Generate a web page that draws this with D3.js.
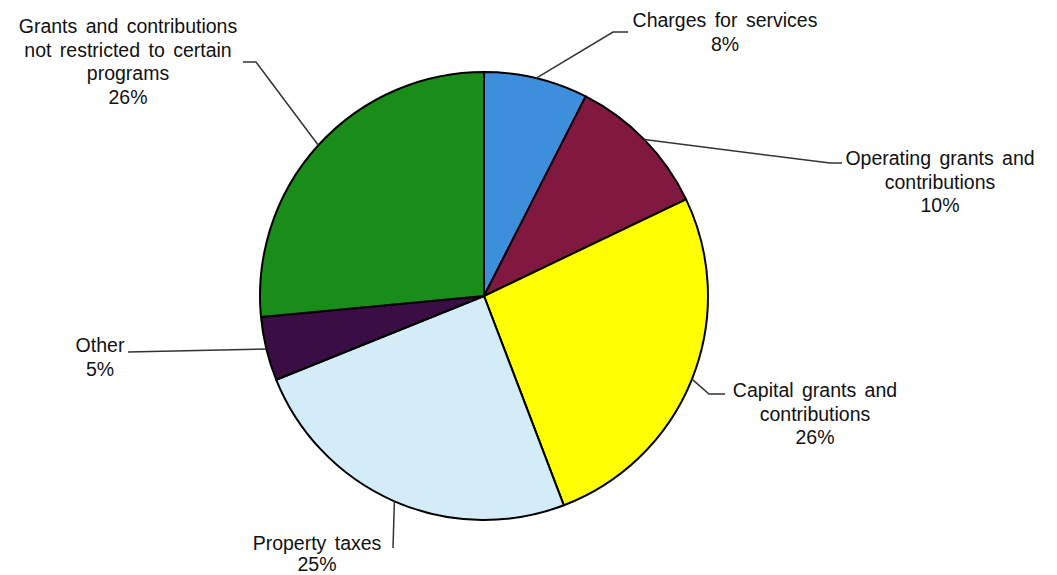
<!DOCTYPE html>
<html>
<head>
<meta charset="utf-8">
<script src="https://cdn.jsdelivr.net/npm/d3@7"></script>
<style>
  body { margin: 0; background: #fff; }
  text { font-family: "Liberation Sans", Arial, sans-serif; font-size: 19.5px; fill: #111; word-spacing: 3px; }
</style>
</head>
<body>
<svg id="chart" width="1057" height="575"></svg>
<script>
// slices clockwise from 12 o'clock
const categories = ["Charges for services", "Operating grants and contributions", "Capital grants and contributions",
  "Property taxes", "Other", "Grants and contributions not restricted to certain programs"];
const shares = [7.5, 10.4, 26.3, 24.7, 4.6, 26.5];
const pct_labels = ["8%", "10%", "26%", "25%", "5%", "26%"];
const label_lines = [
  ["Charges for services", pct_labels[0]],
  ["Operating grants and", "contributions", pct_labels[1]],
  ["Capital grants and", "contributions", pct_labels[2]],
  ["Property taxes", pct_labels[3]],
  ["Other", pct_labels[4]],
  ["Grants and contributions", "not restricted to certain", "programs", pct_labels[5]]
];
const colors = ["#3d8fdc", "#801840", "#ffff00", "#d4ecf8", "#3a0e45", "#1a8c1a"];

// label placement: text centre x, first baseline y, line gap, leader elbow & end
const label_pos = [
  { x: 725, y: 27, gap: 23.5, elbow: [613, 32], end: [628, 32] },
  { x: 940, y: 165, gap: 23.5, elbow: [830, 163], end: [842, 163] },
  { x: 815, y: 397, gap: 23.5, elbow: [709, 394], end: [725, 394] },
  { x: 317, y: 550, gap: 21, elbow: [393, 548], end: [393, 548] },
  { x: 100, y: 352, gap: 23.5, elbow: [128, 352], end: [128, 352] },
  { x: 128, y: 33, gap: 23.5, elbow: [256, 62], end: [243, 62] }
];

const svg = d3.select("#chart");
const cx = 484, cy = 296, r = 224;
const g = svg.append("g").attr("transform", `translate(${cx},${cy})`);

const pie = d3.pie().sort(null).value(d => d)(shares);
const arc = d3.arc().innerRadius(0).outerRadius(r);

g.selectAll("path.slice")
  .data(pie)
  .enter().append("path")
  .attr("class", "slice")
  .attr("d", arc)
  .attr("fill", (d, i) => colors[i])
  .attr("stroke", "#000")
  .attr("stroke-width", 2)
  .attr("stroke-linejoin", "round");

// leader lines from the middle of each slice's edge
pie.forEach((d, i) => {
  const p = label_pos[i];
  const a = (d.startAngle + d.endAngle) / 2;
  const sx = cx + Math.sin(a) * r, sy = cy - Math.cos(a) * r;
  svg.append("polyline")
    .attr("points", [[sx, sy], p.elbow, p.end].map(q => q.join(",")).join(" "))
    .attr("fill", "none")
    .attr("stroke", "#333")
    .attr("stroke-width", 1.5);

  const t = svg.append("text").attr("text-anchor", "middle");
  label_lines[i].forEach((line, k) => {
    t.append("tspan").attr("x", p.x).attr("y", p.y + k * p.gap).text(line);
  });
});
</script>
</body>
</html>
